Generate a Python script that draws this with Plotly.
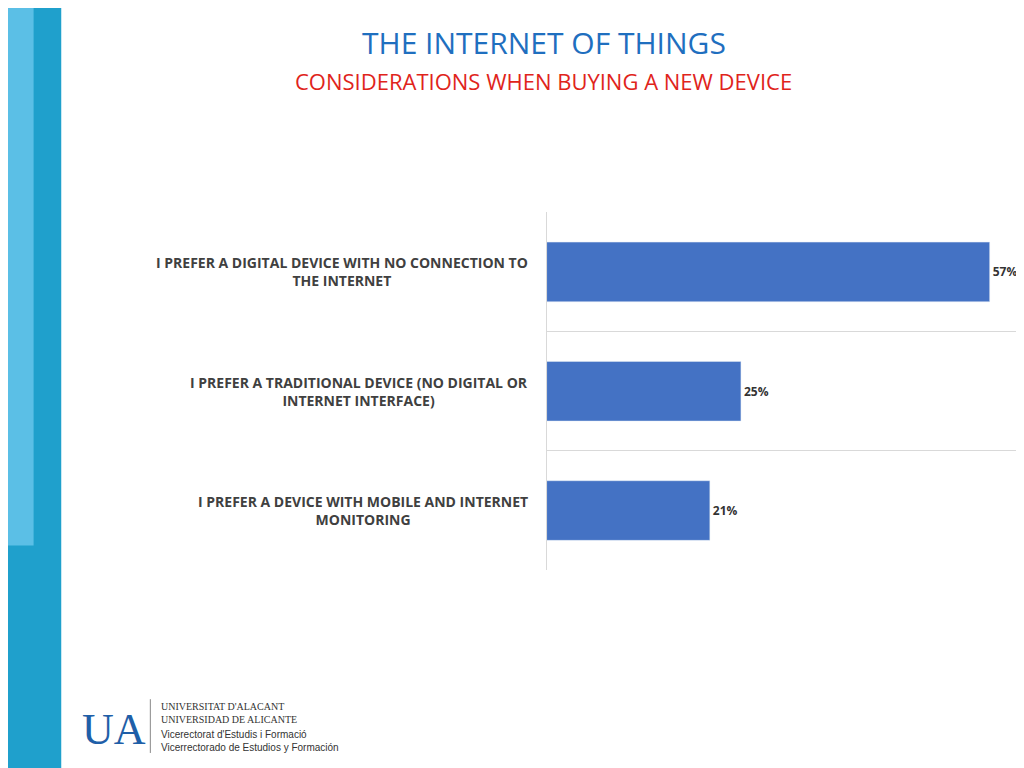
import plotly.graph_objects as go

categories = [
    "I PREFER A DIGITAL DEVICE WITH NO CONNECTION TO<br>THE INTERNET",
    "I PREFER A TRADITIONAL DEVICE (NO DIGITAL OR<br>INTERNET INTERFACE)",
    "I PREFER A DEVICE WITH MOBILE AND INTERNET<br>MONITORING",
]
values = [57, 25, 21]
positions = [2, 1, 0]

fig = go.Figure()
fig.add_trace(go.Bar(
    x=values, y=positions, orientation="h", width=0.5,
    marker=dict(color="#4472C4"),
    text=[f"<b>{v}%</b>" for v in values], textposition="outside", cliponaxis=False,
    textfont=dict(family="Open Sans", size=12, color="#333333"),
))

for cat, p in zip(categories, positions):
    fig.add_annotation(
        x=0.51, xref="paper", y=p, yref="y", text=f"<b>{cat}</b>",
        xanchor="right", yanchor="middle", align="center", showarrow=False,
        font=dict(family="Open Sans", size=14, color="#404040"),
    )

# left decorative strip
fig.add_shape(type="rect", xref="paper", yref="paper", x0=-0.02, x1=0.052, y0=-0.02, y1=1.02,
              fillcolor="#1FA0CC", line_width=0, layer="below")
fig.add_shape(type="rect", xref="paper", yref="paper", x0=-0.02, x1=0.025, y0=0.3, y1=1.02,
              fillcolor="#5BBFE6", line_width=0, layer="below")

fig.add_annotation(x=0.523, y=0.955, xref="paper", yref="paper", text="THE INTERNET OF THINGS",
                   yanchor="middle", showarrow=False, font=dict(family="Open Sans", size=30, color="#1F6FBF"))
fig.add_annotation(x=0.523, y=0.905, xref="paper", yref="paper", text="CONSIDERATIONS WHEN BUYING A NEW DEVICE",
                   yanchor="middle", showarrow=False, font=dict(family="Open Sans", size=22, color="#E0241B"))

# logo
fig.add_annotation(x=0.07, y=0.06, xref="paper", yref="paper", text="UA", xanchor="left", yanchor="middle",
                   showarrow=False, font=dict(family="Liberation Serif", size=44, color="#1F5FA8"))
fig.add_shape(type="line", xref="paper", yref="paper", x0=0.139, x1=0.139, y0=0.03, y1=0.1,
              line=dict(color="#888888", width=1))
fig.add_annotation(x=0.147, y=0.082, xref="paper", yref="paper", xanchor="left", yanchor="middle", align="left",
                   text="UNIVERSITAT D'ALACANT<br>UNIVERSIDAD DE ALICANTE", showarrow=False,
                   font=dict(family="Liberation Serif", size=10, color="#333333"))
fig.add_annotation(x=0.147, y=0.045, xref="paper", yref="paper", xanchor="left", yanchor="middle", align="left",
                   text="Vicerectorat d'Estudis i Formació<br>Vicerrectorado de Estudios y Formación", showarrow=False,
                   font=dict(family="Liberation Sans", size=10, color="#333333"))

fig.update_layout(
    width=1024, height=768, margin=dict(l=0, r=0, t=0, b=0),
    paper_bgcolor="white", plot_bgcolor="white", showlegend=False,
    xaxis=dict(domain=[0.526, 0.986], range=[0, 60.6], showgrid=False, showticklabels=False,
               zeroline=False, showline=False),
    yaxis=dict(domain=[0.268, 0.734], range=[-0.5, 2.5], tickvals=[-0.5, 0.5, 1.5, 2.5],
               showticklabels=False, gridcolor="#D9D9D9", zeroline=False,
               showline=True, linecolor="#D9D9D9"),
)
fig.write_html("out.html")
